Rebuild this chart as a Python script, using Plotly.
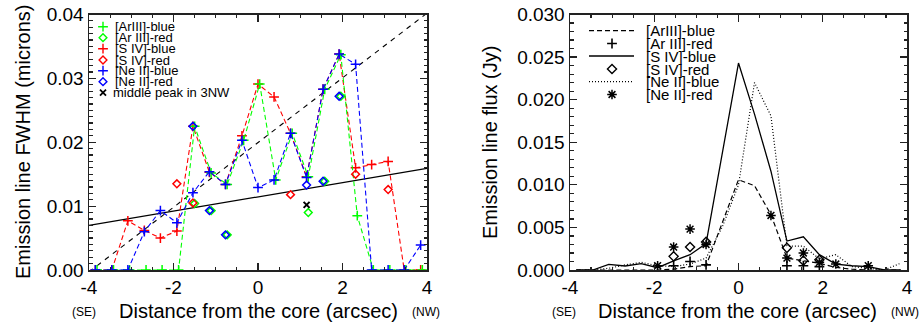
import plotly.graph_objects as go

# ---------------- data ----------------
pos = [-3.85, -3.46, -3.08, -2.69, -2.31, -1.92, -1.54, -1.15, -0.77, -0.38, 0.00,
       0.38, 0.77, 1.15, 1.54, 1.92, 2.31, 2.69, 3.08, 3.46, 3.85]
pos_ar = [-3.81, -3.42, -3.04, -2.65, -2.27, -1.88, -1.50, -1.11, -0.73, -0.34, 0.04,
          0.42, 0.81, 1.19, 1.58, 1.96, 2.35, 2.73, 3.12, 3.50, 3.89]

# Left panel: FWHM (microns)
fwhm_ar_blue = [0, 0, 0, 0, 0, 0, 0.0225, 0.0152, 0.0134, 0.0203, 0.0291,
                0.0141, 0.0214, 0.0146, 0.0283, 0.0337, 0.0085, 0, 0, 0, 0]
fwhm_s4_blue = [0, 0, 0.0077, 0.0062, 0.0050, 0.0061, 0.0225, 0.0153, 0.0134, 0.0210, 0.0291,
                0.0271, 0.0214, 0.0146, 0.0283, 0.0338, 0.0160, 0.0165, 0.0170, 0, 0]
fwhm_ne2_blue = [0, 0, 0, 0.0060, 0.0093, 0.0074, 0.0121, 0.0154, 0.0134, 0.0203, 0.0129,
                 0.0141, 0.0214, 0.0145, 0.0283, 0.0338, 0.0322, 0, 0, 0, 0.0039]
fwhm_ar_red = [None, None, None, None, None, None, 0.0104, 0.0093, 0.0055, None, None,
               None, None, 0.0090, 0.0139, 0.0272, None, None, None, None, None]
fwhm_s4_red = [None, None, None, None, None, 0.0135, 0.0105, None, None, None, None,
               None, 0.0118, None, None, None, 0.0150, None, 0.0126, None, None]
fwhm_ne2_red = [None, None, None, None, None, None, 0.0225, 0.0093, 0.0055, None, None,
                None, None, 0.0133, 0.0139, 0.0272, None, None, None, None, None]
mid_peak_x = [1.15]
mid_peak_y = [0.0102]
fit_x = [-4.0, 4.0]
fit_dashed_y = [-0.0003, 0.0402]
fit_solid_y = [0.0070, 0.0159]

# Right panel: flux (Jy)
flux_ar_blue = [0, 0, 0, 0, 0, 0, 0.0001, 0.0004, 0.0005, 0.0055, 0.0106,
                0.0099, 0.0065, 0.0014, 0.0011, 0.0008, 0.0003, 0.0001, 0, 0, 0]
flux_s4_blue = [0, 0, 0.00066, 0.00047, 0.00074, 0.00027, 0.00106, 0.0018, 0.0031, 0.0140, 0.0243,
                0.0183, 0.0116, 0.0034, 0.0039, 0.0018, 0.0007, 0.0005, 0.0004, 0, 0]
flux_ne2_blue = [0, 0, 0.0002, 0.0006, 0.0009, 0.0005, 0.0004, 0.0007, 0.0014, 0.0051, 0.0100,
                 0.0220, 0.0181, 0.0028, 0.0028, 0.0013, 0.0018, 0.0004, 0.0002, 0, 0.0008]
flux_ar_red = [None, None, None, None, None, None, 0.0005, 0.0010, 0.0006, None, None,
               None, None, 0.0005, 0.0005, 0.0004, None, None, None, None, None]
flux_s4_red = [None, None, None, None, None, None, 0.0016, 0.0027, 0.0033, None, None,
               None, None, 0.0026, 0.0011, 0.0012, None, None, None, None, None]
flux_ne2_red = [None, None, None, None, None, 0.0005, 0.0027, 0.0048, 0.0030, None, None,
                None, 0.0064, 0.0014, 0.0020, 0.0009, 0.0007, None, 0.0005, None, None]

x_tickvals = [-4, -2, 0, 2, 4]
x_ticktext = ["-4", "-2", "0", "2", "4"]
left_labels = ["[ArIII]-blue", "[Ar III]-red", "[S IV]-blue", "[S IV]-red",
               "[Ne II]-blue", "[Ne II]-red", "middle peak in 3NW"]
right_labels = ["[ArIII]-blue", "[Ar III]-red", "[S IV]-blue", "[S IV]-red",
                "[Ne II]-blue", "[Ne II]-red"]

GREEN = "#00ff00"
RED = "#ff0000"
BLUE = "#0000ff"
FONT = "Liberation Sans, Arial, sans-serif"
DASH = "5px,3px"

fig = go.Figure()

def add(tr):
    fig.add_trace(tr)

# ---------------- left panel ----------------
add(go.Scatter(x=fit_x, y=fit_dashed_y, mode="lines",
               line=dict(color="black", width=1.1, dash="5px,5px"), xaxis="x", yaxis="y"))
add(go.Scatter(x=fit_x, y=fit_solid_y, mode="lines",
               line=dict(color="black", width=1.3), xaxis="x", yaxis="y"))

mk_plus = dict(symbol="cross-thin-open", size=7, line=dict(width=1.5))
mk_dia = dict(symbol="diamond-open", size=6, line=dict(width=1.5))

add(go.Scatter(x=pos, y=fwhm_s4_blue, mode="lines+markers",
               line=dict(color=RED, width=1.1, dash=DASH),
               marker=dict(color=RED, **mk_plus), xaxis="x", yaxis="y"))
add(go.Scatter(x=pos_ar, y=fwhm_ar_blue, mode="lines+markers",
               line=dict(color=GREEN, width=1.1, dash=DASH),
               marker=dict(color=GREEN, **mk_plus), xaxis="x", yaxis="y"))
add(go.Scatter(x=pos, y=fwhm_ne2_blue, mode="lines+markers",
               line=dict(color=BLUE, width=1.1, dash=DASH),
               marker=dict(color=BLUE, **mk_plus), xaxis="x", yaxis="y"))
add(go.Scatter(x=pos_ar, y=fwhm_ar_red, mode="markers",
               marker=dict(color=GREEN, **mk_dia), xaxis="x", yaxis="y"))
add(go.Scatter(x=pos, y=fwhm_s4_red, mode="markers",
               marker=dict(color=RED, **mk_dia), xaxis="x", yaxis="y"))
add(go.Scatter(x=pos, y=fwhm_ne2_red, mode="markers",
               marker=dict(color=BLUE, **mk_dia), xaxis="x", yaxis="y"))
add(go.Scatter(x=mid_peak_x, y=mid_peak_y, mode="markers",
               marker=dict(symbol="x-thin-open", size=6, color="black", line=dict(width=2)),
               xaxis="x", yaxis="y"))

# ---------------- right panel ----------------
add(go.Scatter(x=pos, y=flux_ar_blue, mode="lines",
               line=dict(color="black", width=1.2, dash="5px,3px"), xaxis="x2", yaxis="y2"))
add(go.Scatter(x=pos, y=flux_s4_blue, mode="lines",
               line=dict(color="black", width=1.3), xaxis="x2", yaxis="y2"))
add(go.Scatter(x=pos, y=flux_ne2_blue, mode="lines",
               line=dict(color="black", width=1.2, dash="1px,2px"), xaxis="x2", yaxis="y2"))
add(go.Scatter(x=pos, y=flux_ar_red, mode="markers",
               marker=dict(symbol="cross-thin-open", size=7, color="black", line=dict(width=1.6)),
               xaxis="x2", yaxis="y2"))
add(go.Scatter(x=pos, y=flux_s4_red, mode="markers",
               marker=dict(symbol="diamond-open", size=7, color="black", line=dict(width=1.4)),
               xaxis="x2", yaxis="y2"))
add(go.Scatter(x=pos, y=flux_ne2_red, mode="markers",
               marker=dict(symbol="asterisk-open", size=8, color="black", line=dict(width=1.5)),
               xaxis="x2", yaxis="y2"))

# ---------------- legends (pixel-coordinate overlay axes) ----------------
L_sym_x = 103
L_text_x = 113
L_rows = [26.7, 37.7, 48.7, 60.0, 70.7, 81.7, 92.7]
l_symbols = [("cross-thin-open", GREEN), ("diamond-open", GREEN), ("cross-thin-open", RED),
             ("diamond-open", RED), ("cross-thin-open", BLUE), ("diamond-open", BLUE),
             ("x-thin-open", "black")]
for (sym, col), yy in zip(l_symbols, L_rows):
    add(go.Scatter(x=[L_sym_x], y=[yy], mode="markers",
                   marker=dict(symbol=sym, size=7 if sym == "cross-thin-open" else 6, color=col,
                               line=dict(width=1.8 if sym == "x-thin-open" else 1.4)),
                   xaxis="x3", yaxis="y3"))

R_rows = [30.7, 43.5, 56.0, 69.0, 81.7, 94.5]
R_line_x0, R_line_x1, R_sym_x, R_text_x = 589, 634, 612, 644
fig.add_shape(type="line", x0=R_line_x0, x1=R_line_x1, y0=R_rows[0], y1=R_rows[0],
              xref="x3", yref="y3", line=dict(color="black", width=1.2, dash="5px,3px"))
fig.add_shape(type="line", x0=R_line_x0, x1=R_line_x1, y0=R_rows[2], y1=R_rows[2],
              xref="x3", yref="y3", line=dict(color="black", width=1.3))
fig.add_shape(type="line", x0=R_line_x0, x1=R_line_x1, y0=R_rows[4], y1=R_rows[4],
              xref="x3", yref="y3", line=dict(color="black", width=1.2, dash="1px,2px"))
for sym, yy, w, s in [("cross-thin-open", R_rows[1], 1.6, 7), ("diamond-open", R_rows[3], 1.4, 7),
                      ("asterisk-open", R_rows[5], 1.5, 8)]:
    add(go.Scatter(x=[R_sym_x], y=[yy], mode="markers",
                   marker=dict(symbol=sym, size=s, color="black", line=dict(width=w)),
                   xaxis="x3", yaxis="y3"))

ann = []
for lab, yy in zip(left_labels, L_rows):
    ann.append(dict(x=L_text_x if lab[0] == "[" else L_text_x - 2, y=yy, text=lab,
                    xanchor="left", yanchor="middle",
                    font=dict(size=13, color="black", family=FONT)))
for lab, yy in zip(right_labels, R_rows):
    ann.append(dict(x=R_text_x, y=yy, text=lab, xanchor="left", yanchor="middle",
                    font=dict(size=15, color="black", family=FONT)))
# axis titles and side labels
ann += [
    dict(x=258, y=311, text="Distance from the core (arcsec)", xanchor="center", yanchor="middle",
         font=dict(size=20, color="black", family=FONT)),
    dict(x=737, y=311, text="Distance from the core (arcsec)", xanchor="center", yanchor="middle",
         font=dict(size=20, color="black", family=FONT)),
    dict(x=84, y=312, text="(SE)", xanchor="center", yanchor="middle",
         font=dict(size=12, color="black", family=FONT)),
    dict(x=426, y=312, text="(NW)", xanchor="center", yanchor="middle",
         font=dict(size=12, color="black", family=FONT)),
    dict(x=564, y=312, text="(SE)", xanchor="center", yanchor="middle",
         font=dict(size=12, color="black", family=FONT)),
    dict(x=905, y=312, text="(NW)", xanchor="center", yanchor="middle",
         font=dict(size=12, color="black", family=FONT)),
    dict(x=23, y=142, text="Emission line FWHM (microns)", textangle=-90,
         xanchor="center", yanchor="middle", font=dict(size=20, color="black", family=FONT)),
    dict(x=490, y=143, text="Emission line flux (Jy)", textangle=-90,
         xanchor="center", yanchor="middle", font=dict(size=20, color="black", family=FONT)),
]
for a in ann:
    a.update(xref="x3", yref="y3", showarrow=False)

axis_common = dict(showline=True, linecolor="#222", linewidth=1.5, mirror="allticks",
                   ticks="inside", tickcolor="#222", tickwidth=1.2, ticklen=7,
                   showgrid=False, zeroline=False, fixedrange=True, automargin=False,
                   tickfont=dict(size=19, color="black", family=FONT))

yd = [55 / 325, 310.5 / 325]
fig.update_layout(
    width=922, height=325, margin=dict(l=0, r=0, t=0, b=0, autoexpand=False),
    paper_bgcolor="white", plot_bgcolor="rgba(0,0,0,0)", showlegend=False,
    hovermode=False,
    xaxis=dict(domain=[89 / 922, 427 / 922], range=[-4, 4], anchor="y",
               tickvals=x_tickvals, ticktext=x_ticktext,
               minor=dict(dtick=0.5, tick0=-4, ticks="inside", ticklen=3.5, tickcolor="#222"),
               **axis_common),
    yaxis=dict(domain=yd, range=[0, 0.04], anchor="x", dtick=0.01, tickformat=".2f",
               minor=dict(dtick=0.001, ticks="inside", ticklen=3.5, tickcolor="#222"),
               **axis_common),
    xaxis2=dict(domain=[570 / 922, 907 / 922], range=[-4, 4], anchor="y2",
                tickvals=x_tickvals, ticktext=x_ticktext,
                minor=dict(dtick=0.5, tick0=-4, ticks="inside", ticklen=3.5, tickcolor="#222"),
                **axis_common),
    yaxis2=dict(domain=yd, range=[0, 0.03], anchor="x2", dtick=0.005, tickformat=".3f",
                minor=dict(dtick=0.001, ticks="inside", ticklen=3.5, tickcolor="#222"),
                **axis_common),
    xaxis3=dict(domain=[0, 1], range=[0, 922], anchor="y3", visible=False,
                fixedrange=True, automargin=False),
    yaxis3=dict(domain=[0, 1], range=[325, 0], anchor="x3", visible=False,
                fixedrange=True, automargin=False),
    annotations=ann,
)

fig.write_html("out.html", config={"displayModeBar": False, "staticPlot": True},
               post_script="document.body.style.margin='0';document.body.style.padding='0';")
